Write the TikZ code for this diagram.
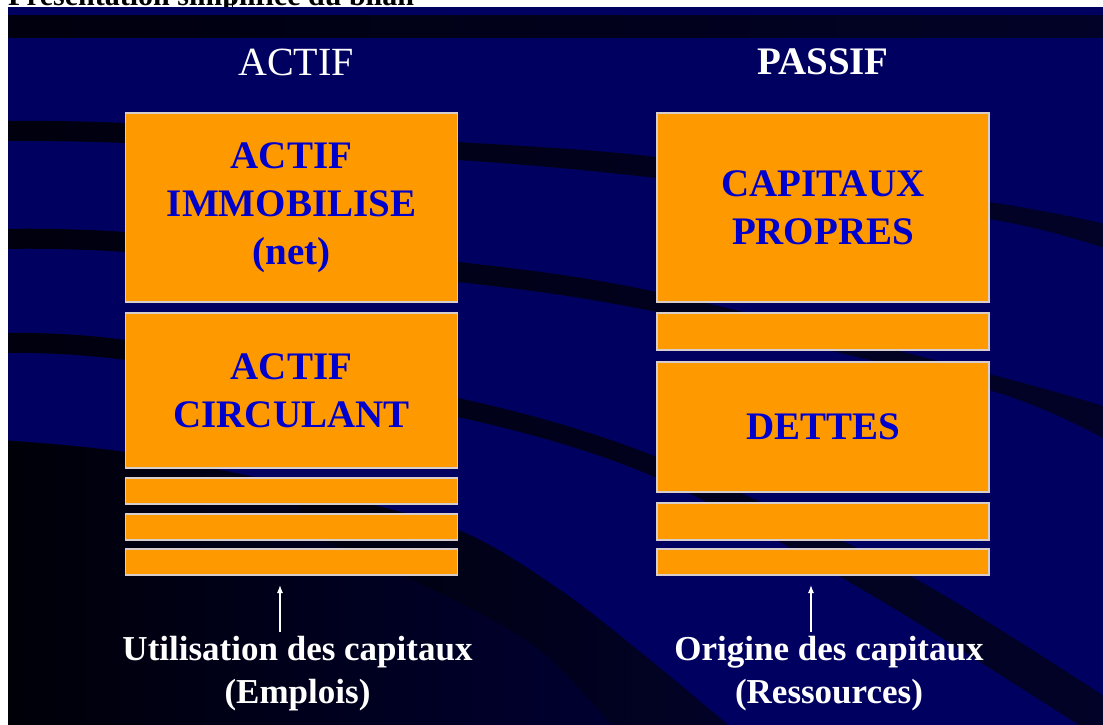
\documentclass[tikz,border=0pt]{standalone}
\usepackage{fontspec}
\setmainfont{Liberation Serif}
\usetikzlibrary{arrows,arrows.meta}
\definecolor{fond}{RGB}{0,0,96}
\definecolor{sombre}{RGB}{2,2,40}
\definecolor{noirbleu}{RGB}{0,0,14}
\definecolor{orangebilan}{RGB}{255,153,0}
\definecolor{bleutexte}{RGB}{0,0,204}
\definecolor{bord}{RGB}{215,205,205}
\tikzstyle{bloc} = [draw=bord, fill=orangebilan, line width=1.2pt, minimum width=332pt, text=bleutexte, align=center, inner sep=0pt, font=\fontsize{39}{48}\selectfont\bfseries]
\tikzstyle{titre} = [text=white, inner sep=0pt, font=\fontsize{40}{48}\selectfont]
\tikzstyle{legende} = [text=white, inner sep=0pt, align=center, font=\fontsize{35}{43}\selectfont\bfseries]
\tikzstyle{fleche} = [-{Latex[length=8pt,width=6pt]}, draw=white, line width=1.2pt]
\tikzstyle{bande} = [left color=noirbleu, right color=sombre]

\begin{document}
\begin{tikzpicture}[x=1pt, y=-1pt]
	\useasboundingbox (0,0) rectangle (1103,724);
	\fill[white] (0,0) rectangle (1103,724);
	
	% titre coupe en haut
	\begin{scope}
		\clip (0,0) rectangle (1103,7.5);
		\node[anchor=base west, inner sep=0pt, font=\fontsize{30}{36}\selectfont\bfseries] (entete) at (8,5) {Présentation simplifiée du bilan};
		\draw[line width=1pt] (232,0) -- (232,8);
	\end{scope}
	
	% fond bleu avec les bandes sombres
	\begin{scope}
		\clip (8,7.5) rectangle (1110,735);
		\fill[fond] (8,7) rectangle (1110,735);
		\shade[bande] (8,15) rectangle (1110,37);
		\shade[bande] plot[smooth] coordinates {(0,121) (125,123) (458,142) (657,157) (989,202) (1110,225)}
			-- plot[smooth] coordinates {(1110,250) (989,219) (657,178) (458,160) (125,143) (0,141)} -- cycle;
		\shade[bande] plot[smooth] coordinates {(0,229) (125,232) (458,262) (657,292) (989,374) (1110,408)}
			-- plot[smooth] coordinates {(1110,442) (989,390) (657,312) (458,282) (125,252) (0,249)} -- cycle;
		\shade[bande] plot[smooth] coordinates {(0,333) (125,340) (458,398) (657,457) (905,573) (1110,700)}
			-- plot[smooth] coordinates {(1110,745) (880,600) (657,478) (458,417) (125,360) (0,353)} -- cycle;
		\shade[left color=black!92!fond, right color=fond!60!black] plot[smooth] coordinates {(0,440) (125,452) (300,487) (458,530) (560,590) (650,660) (740,735)} -- (0,735) -- cycle;
		\shade[bande] plot[smooth] coordinates {(300,487) (458,530) (560,590) (650,660) (740,735)}
			-- plot[smooth] coordinates {(620,735) (540,650) (440,593) (300,530)} -- cycle;
	\end{scope}
	
	% actif
	\node[bloc, minimum height=189pt] (immo) at (291.5,207.5) {ACTIF\\IMMOBILISE\\(net)};
	\node[bloc, minimum height=155pt, below of=immo, node distance=183pt] (circ) {ACTIF\\CIRCULANT};
	\node[bloc, minimum height=26pt, below of=circ, node distance=100.5pt] (ga1) {};
	\node[bloc, minimum height=26pt, below of=ga1, node distance=36pt] (ga2) {};
	\node[bloc, minimum height=26pt, below of=ga2, node distance=35pt] (ga3) {};
	
	% passif
	\node[bloc, minimum height=189pt] (capi) at (823,207.5) {CAPITAUX\\PROPRES};
	\node[bloc, minimum height=37pt, below of=capi, node distance=124pt] (dr1) {};
	\node[bloc, minimum height=130pt, below of=dr1, node distance=95.5pt] (dettes) {DETTES};
	\node[bloc, minimum height=37pt, below of=dettes, node distance=94.5pt] (dr2) {};
	\node[bloc, minimum height=26pt, below of=dr2, node distance=40.5pt] (dr3) {};
	
	\node[titre, above of=immo, node distance=145.5pt, xshift=4.5pt] (actif) {ACTIF};
	\node[titre, above of=capi, node distance=145.5pt, font=\fontsize{39}{48}\selectfont\bfseries] (passif) {PASSIF};
	
	\node[legende, below of=ga3, node distance=111.5pt, xshift=6pt] (emplois) {Utilisation des capitaux\\(Emplois)};
	\node[legende, below of=dr3, node distance=111.5pt, xshift=6pt] (ressources) {Origine des capitaux\\(Ressources)};
	
	\draw[fleche, shorten <=3.5pt, shorten >=9.4pt] ([xshift=-17.5pt]emplois.north) -- ([xshift=-11.5pt]ga3.south);
	\draw[fleche, shorten <=3.5pt, shorten >=9.4pt] ([xshift=-18pt]ressources.north) -- ([xshift=-12pt]dr3.south);
	
\end{tikzpicture}
\end{document}
